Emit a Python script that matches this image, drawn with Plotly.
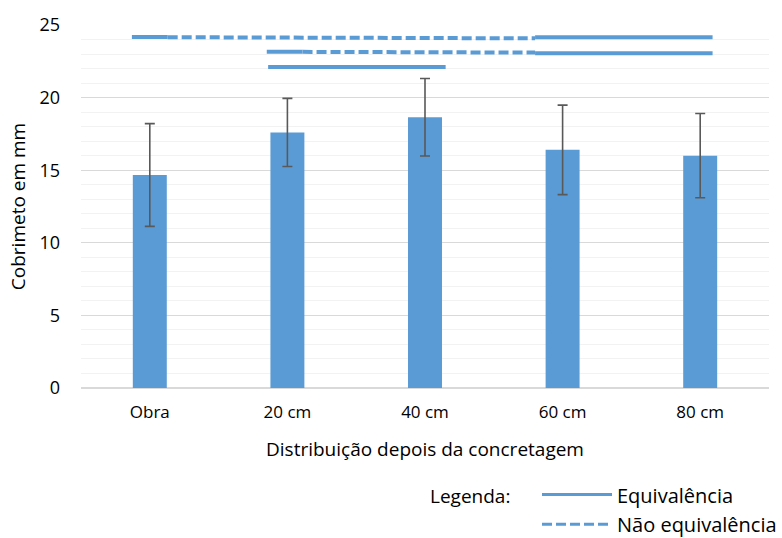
import plotly.graph_objects as go

categories = ["Obra", "20 cm", "40 cm", "60 cm", "80 cm"]
means = [14.67, 17.6, 18.65, 16.4, 16.0]
errors = [3.54, 2.35, 2.67, 3.08, 2.9]

# comparison lines above bars: (x_start, x_end, y) in category units
equiv_segments = [(-0.13, 0.13, 24.17), (2.80, 4.09, 24.15),
                  (0.85, 1.11, 23.15), (2.80, 4.09, 23.05),
                  (0.86, 2.15, 22.1)]
nonequiv_segments = [(0.13, 2.80, 24.16, 24.08), (1.11, 2.80, 23.15, 23.1)]

BLUE = "#5B9BD5"
FONT = "'Open Sans', 'Liberation Sans', sans-serif"

fig = go.Figure()
fig.add_trace(go.Bar(
    x=list(range(len(categories))), y=means, width=0.247,
    marker=dict(color=BLUE, line=dict(width=0)),
    error_y=dict(type="data", array=errors, color="#595959", thickness=1.6, width=5),
    showlegend=False,
))

sx, sy = [], []
for x0, x1, y in equiv_segments:
    sx += [x0, x1, None]
    sy += [y, y, None]
fig.add_trace(go.Scatter(x=sx, y=sy, mode="lines", line=dict(color=BLUE, width=4),
                         showlegend=False, hoverinfo="skip"))
dx, dy = [], []
for x0, x1, y0, y1 in nonequiv_segments:
    dx += [x0, x1, None]
    dy += [y0, y1, None]
fig.add_trace(go.Scatter(x=dx, y=dy, mode="lines",
                         line=dict(color=BLUE, width=4, dash="10px,4px"),
                         showlegend=False, hoverinfo="skip"))

fig.update_layout(
    width=782, height=538,
    margin=dict(l=81, r=13, t=20, b=150),
    plot_bgcolor="white", paper_bgcolor="white",
    font=dict(family=FONT, size=17, color="#000000"),
    bargap=0.75,
    xaxis=dict(range=[-0.5, 4.5], tickmode="array", tickvals=list(range(len(categories))),
               ticktext=categories, showgrid=False, zeroline=False,
               showline=False, ticks="", ticklabelstandoff=12,
               tickfont=dict(size=17),
               title=dict(text="Distribuição depois da concretagem", standoff=20,
                          font=dict(size=19))),
    yaxis=dict(range=[0, 25], tickvals=[0, 5, 10, 15, 20, 25], showgrid=True,
               gridcolor="#D9D9D9", gridwidth=1, zeroline=True, zerolinecolor="#D9D9D9",
               zerolinewidth=1.5, ticks="", ticklabelstandoff=20,
               tickfont=dict(size=18),
               minor=dict(dtick=1, showgrid=True, gridcolor="#F2F2F2", gridwidth=1),
               title=dict(text="Cobrimeto em mm", standoff=8, font=dict(size=19))),
    showlegend=False,
)

# manual legend
fig.add_annotation(xref="paper", yref="paper", x=(428 - 81) / 688, y=-(497 - 388) / 368,
                   text="Legenda:", showarrow=False, xanchor="left", yanchor="middle",
                   font=dict(size=19))
fig.add_annotation(xref="paper", yref="paper", x=(615 - 81) / 688, y=-(497 - 388) / 368,
                   text="Equivalência", showarrow=False, xanchor="left", yanchor="middle",
                   font=dict(size=20))
fig.add_annotation(xref="paper", yref="paper", x=(615 - 81) / 688, y=-(526 - 388) / 368,
                   text="Não equivalência", showarrow=False, xanchor="left", yanchor="middle",
                   font=dict(size=20))
fig.add_shape(type="line", xref="paper", yref="paper",
              x0=(542 - 81) / 688, x1=(612 - 81) / 688,
              y0=-(496 - 388) / 368, y1=-(496 - 388) / 368,
              line=dict(color=BLUE, width=3))
fig.add_shape(type="line", xref="paper", yref="paper",
              x0=(542 - 81) / 688, x1=(608 - 81) / 688,
              y0=-(526 - 388) / 368, y1=-(526 - 388) / 368,
              line=dict(color=BLUE, width=3, dash="10px,4px"))

fig.write_html("out.html", config={"displayModeBar": False},
               post_script="document.body.style.margin='0';")
